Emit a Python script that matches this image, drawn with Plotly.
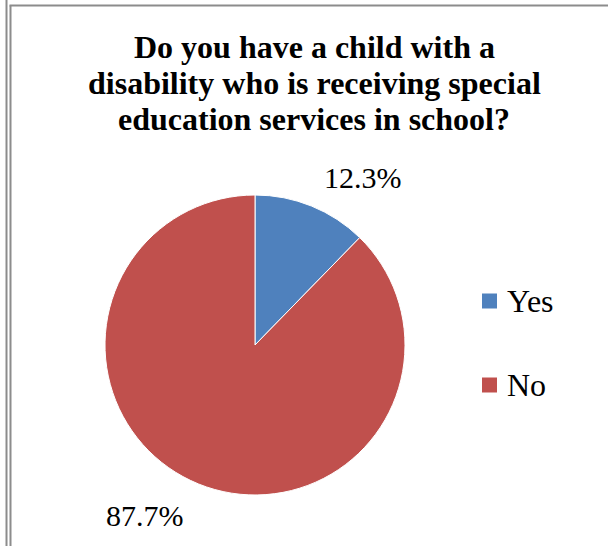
import plotly.graph_objects as go

W, H = 608, 546

title_lines = ["Do you have a child with a", "disability who is receiving special",
               "education services in school?"]
labels = ["Yes", "No"]
values = [12.3, 87.7]
colors = ["#4F81BD", "#C0504D"]
pct_text = [f"{v:.1f}%" for v in values]

FONT = "Liberation Serif, Times New Roman, serif"

def px(x):
    return x / W

def py(y):
    return 1 - y / H

fig = go.Figure()
fig.add_trace(go.Pie(
    labels=labels, values=values, sort=False, direction="clockwise", rotation=0,
    marker=dict(colors=colors, line=dict(color="white", width=1)),
    textinfo="none", hoverinfo="label+percent", showlegend=False,
    domain=dict(x=[px(105), px(405)], y=[py(495), py(195)]),
))

shapes = []
annotations = []
# frame lines
gray = "#8c8c8c"
shapes.append(dict(type="line", xref="paper", yref="paper", x0=px(6.5), x1=px(6.5), y0=1, y1=0,
                   line=dict(color=gray, width=2)))
shapes.append(dict(type="line", xref="paper", yref="paper", x0=px(10.5), x1=px(10.5), y0=py(5.5), y1=0,
                   line=dict(color=gray, width=2)))
shapes.append(dict(type="line", xref="paper", yref="paper", x0=px(9.5), x1=1, y0=py(5.5), y1=py(5.5),
                   line=dict(color=gray, width=2)))

# title lines
title_y = [47, 83, 119]
for t, y in zip(title_lines, title_y):
    annotations.append(dict(text="<b>" + t + "</b>", x=px(314), y=py(y), xref="paper", yref="paper",
                            showarrow=False, xanchor="center", yanchor="middle",
                            font=dict(family=FONT, size=32, color="black")))

# data labels
label_pos = [(362.5, 178), (144.5, 515)]
for t, (x, y) in zip(pct_text, label_pos):
    annotations.append(dict(text=t, x=px(x), y=py(y), xref="paper", yref="paper",
                            showarrow=False, xanchor="center", yanchor="middle",
                            font=dict(family=FONT, size=30, color="black")))

# legend
leg_y = [301, 385]
for lab, col, y in zip(labels, colors, leg_y):
    shapes.append(dict(type="rect", xref="paper", yref="paper",
                       x0=px(482), x1=px(497), y0=py(y + 7.5), y1=py(y - 7.5),
                       fillcolor=col, line=dict(width=0)))
    annotations.append(dict(text=lab, x=px(505), y=py(y), xref="paper", yref="paper",
                            showarrow=False, xanchor="left", yanchor="middle",
                            font=dict(family=FONT, size=32, color="black")))

fig.update_layout(
    width=W, height=H, margin=dict(l=0, r=0, t=0, b=0),
    paper_bgcolor="white", plot_bgcolor="white",
    shapes=shapes, annotations=annotations,
)

fig.write_html("out.html")
